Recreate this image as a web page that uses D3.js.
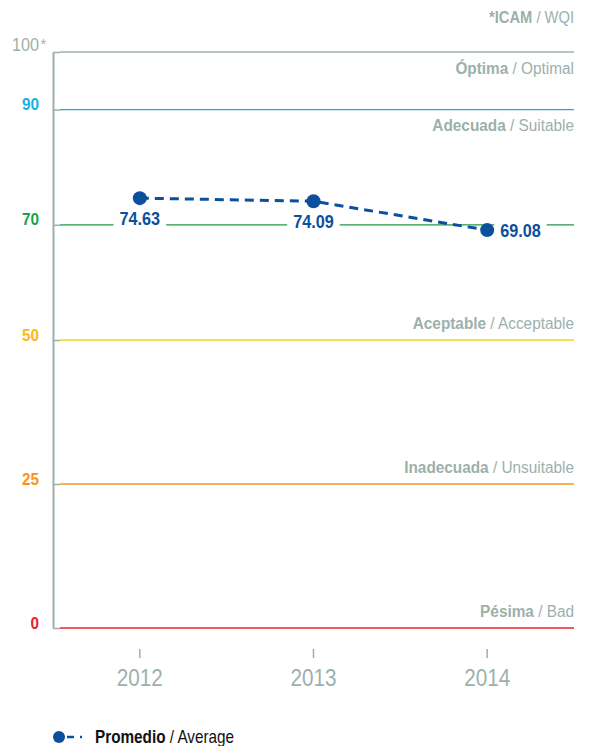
<!DOCTYPE html>
<html>
<head>
<meta charset="utf-8">
<script src="https://cdn.jsdelivr.net/npm/d3@7"></script>
<style>
  body { margin: 0; background: #fff; }
  svg text { font-family: "Liberation Sans", Arial, sans-serif; }
</style>
</head>
<body>
<div id="chart"></div>
<script>
// data
var years = [2012, 2013, 2014];
var average = [74.63, 74.09, 69.08];
var yTicks = [0, 25, 50, 70, 90, 100];
var bands = [
  { value: 100, es: "Óptima", en: "Optimal" },
  { value: 90, es: "Adecuada", en: "Suitable" },
  { value: 50, es: "Aceptable", en: "Acceptable" },
  { value: 25, es: "Inadecuada", en: "Unsuitable" },
  { value: 0, es: "Pésima", en: "Bad" }
];

var width = 592, height = 746;
var grey = "#9cb0ac";
var blue = "#0b4f9d";
var lineColor = { 0: "#e8232b", 25: "#f7941d", 50: "#f8d313", 70: "#239a45", 90: "#2aa0d4", 100: grey };
var textColor = { 0: "#e8232b", 25: "#f7941d", 50: "#fbb817", 70: "#17a24a", 90: "#17b0e8", 100: grey };

// squeeze text horizontally round its anchor (no condensed font installed)
function narrow(sel, k) {
  sel.attr("transform", function () {
    var x = +this.getAttribute("x") || 0;
    return "translate(" + x + ",0) scale(" + k + ",1) translate(" + (-x) + ",0)";
  });
}

var svg = d3.select("#chart")
  .append("svg")
  .attr("width", width)
  .attr("height", height);

var x = d3.scaleBand()
  .domain(years)
  .range([53, 574])
  .padding(0);

var y = d3.scaleLinear()
  .domain([0, 100])
  .range([628, 52]);

function cx(d) { return x(d) + x.bandwidth() / 2; }

// threshold lines
svg.append("g")
  .selectAll("line")
  .data(yTicks)
  .enter()
  .append("line")
  .attr("x1", 60)
  .attr("x2", 574)
  .attr("y1", function (d) { return y(d); })
  .attr("y2", function (d) { return y(d); })
  .attr("stroke", function (d) { return lineColor[d]; })
  .attr("stroke-width", 1.3);

// y axis
var yAxis = svg.append("g")
  .attr("transform", "translate(53,0)")
  .call(d3.axisLeft(y).tickValues(yTicks).tickSizeInner(-7).tickSizeOuter(0).tickPadding(14));
yAxis.select(".domain").attr("stroke", grey).attr("stroke-width", 2);
yAxis.selectAll(".tick line").attr("stroke", grey).attr("stroke-width", 1.5);
yAxis.selectAll(".tick text")
  .attr("font-size", 17)
  .attr("dy", 0)
  .attr("y", 0)
  .attr("fill", function (d) { return textColor[d]; })
  .attr("font-weight", function (d) { return d == 100 ? "normal" : "bold"; });
yAxis.selectAll(".tick text")
  .filter(function (d) { return d == 100; })
  .attr("y", -2)
  .attr("font-size", 18)
  .attr("text-anchor", "start")
  .attr("x", -41)
  .append("tspan")
  .attr("dx", 2)
  .attr("dy", -2)
  .attr("font-size", 15)
  .text("*");
narrow(yAxis.selectAll(".tick text"), 0.9);

// x axis
var xAxis = svg.append("g")
  .attr("transform", "translate(0,649)")
  .call(d3.axisBottom(x).tickSize(9).tickPadding(12));
xAxis.select(".domain").remove();
xAxis.selectAll(".tick line").attr("stroke", grey).attr("stroke-width", 1.5);
xAxis.selectAll(".tick text")
  .attr("font-size", 23)
  .attr("fill", grey);
narrow(xAxis.selectAll(".tick text"), 0.9);

// band labels on the right
var bandY = { 100: 74, 90: 131, 50: 329, 25: 473, 0: 617 };
var bandText = svg.append("g")
  .selectAll("text")
  .data(bands)
  .enter()
  .append("text")
  .attr("x", 574)
  .attr("y", function (d) { return bandY[d.value]; })
  .attr("text-anchor", "end")
  .attr("font-size", 16)
  .attr("fill", grey);
bandText.append("tspan").attr("font-weight", "bold").text(function (d) { return d.es; });
bandText.append("tspan").text(function (d) { return " / " + d.en; });
narrow(bandText, 0.96);

var title = svg.append("text")
  .attr("x", 574)
  .attr("y", 23)
  .attr("text-anchor", "end")
  .attr("font-size", 16)
  .attr("fill", grey);
title.append("tspan").attr("font-weight", "bold").text("*ICAM");
title.append("tspan").text(" / WQI");
narrow(title, 0.92);

// series
var points = years.map(function (yr, i) { return { year: yr, value: average[i] }; });

var bgLayer = svg.append("g");

svg.append("path")
  .datum(points)
  .attr("fill", "none")
  .attr("stroke", blue)
  .attr("stroke-width", 3)
  .attr("stroke-dasharray", "9,6")
  .attr("d", d3.line()
    .x(function (d) { return cx(d.year); })
    .y(function (d) { return y(d.value); }));

svg.append("g")
  .selectAll("circle")
  .data(points)
  .enter()
  .append("circle")
  .attr("cx", function (d) { return cx(d.year); })
  .attr("cy", function (d) { return y(d.value); })
  .attr("r", 7)
  .attr("fill", blue);

var labels = svg.append("g")
  .selectAll("text")
  .data(points)
  .enter()
  .append("text")
  .attr("x", function (d, i) { return i < 2 ? cx(d.year) : cx(d.year) + 13; })
  .attr("y", function (d, i) { return i < 2 ? y(d.value) + 27 : y(d.value) + 7; })
  .attr("text-anchor", function (d, i) { return i < 2 ? "middle" : "start"; })
  .attr("font-size", 18)
  .attr("font-weight", "bold")
  .attr("fill", blue)
  .text(function (d) { return d.value.toFixed(2); });
narrow(labels, 0.9);

var origin = svg.node().getBoundingClientRect();
labels.each(function () {
  var b = this.getBoundingClientRect();
  bgLayer.append("rect")
    .attr("x", b.left - origin.left - 6)
    .attr("y", b.top - origin.top + 2)
    .attr("width", b.width + 12)
    .attr("height", b.height - 4)
    .attr("fill", "#fff");
});

// legend
var legend = svg.append("g").attr("transform", "translate(0,737)");
legend.append("circle").attr("cx", 59).attr("cy", 0).attr("r", 6).attr("fill", blue);
legend.append("line")
  .attr("x1", 67).attr("x2", 84)
  .attr("stroke", blue).attr("stroke-width", 2.5)
  .attr("stroke-dasharray", "7,6,2,6");
var legText = legend.append("text")
  .attr("x", 95)
  .attr("y", 6)
  .attr("font-size", 18)
  .attr("fill", "#111");
legText.append("tspan").attr("font-weight", "bold").text("Promedio");
legText.append("tspan").text(" / Average");
narrow(legText, 0.85);
</script>
</body>
</html>
